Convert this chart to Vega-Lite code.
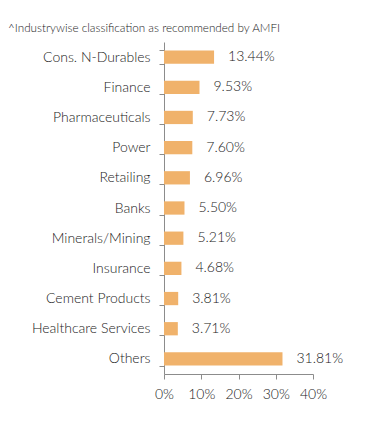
{
  "$schema": "https://vega.github.io/schema/vega-lite/v6.json",
  "width": 149,
  "height": 332,
  "autosize": {"type": "none"},
  "padding": {"left": 164, "top": 42, "right": 78, "bottom": 53},
  "background": "white",
  "title": {
    "text": "^Industrywise classification as recommended by AMFI",
    "anchor": "start",
    "frame": "group",
    "dx": -156,
    "dy": 4,
    "offset": 4,
    "fontSize": 11.7,
    "font": "Lato",
    "fontWeight": 300,
    "color": "#222222"
  },
  "data": {
    "values": [
      {"industry": "Cons. N-Durables", "pct": 13.44, "label": "13.44%"},
      {"industry": "Finance", "pct": 9.53, "label": "9.53%"},
      {"industry": "Pharmaceuticals", "pct": 7.73, "label": "7.73%"},
      {"industry": "Power", "pct": 7.60, "label": "7.60%"},
      {"industry": "Retailing", "pct": 6.96, "label": "6.96%"},
      {"industry": "Banks", "pct": 5.50, "label": "5.50%"},
      {"industry": "Minerals/Mining", "pct": 5.21, "label": "5.21%"},
      {"industry": "Insurance", "pct": 4.68, "label": "4.68%"},
      {"industry": "Cement Products", "pct": 3.81, "label": "3.81%"},
      {"industry": "Healthcare Services", "pct": 3.71, "label": "3.71%"},
      {"industry": "Others", "pct": 31.81, "label": "31.81%"}
    ]
  },
  "encoding": {
    "y": {
      "field": "industry",
      "type": "nominal",
      "sort": null,
      "scale": {"paddingInner": 0.56, "paddingOuter": 0.28},
      "axis": {
        "title": null,
        "tickBand": "extent",
        "domainColor": "#8c8c8c",
        "tickColor": "#8c8c8c",
        "tickSize": 5,
        "labelPadding": 9,
        "labelFont": "Lato",
        "labelFontWeight": 300,
        "labelFontSize": 14,
        "labelColor": "#222222"
      }
    },
    "x": {
      "field": "pct",
      "type": "quantitative",
      "scale": {"domain": [0, 40]},
      "axis": {
        "title": null,
        "values": [0, 10, 20, 30, 40],
        "labelExpr": "datum.value + '%'",
        "labelOverlap": false,
        "labelFlush": false,
        "grid": false,
        "domainColor": "#8c8c8c",
        "tickColor": "#8c8c8c",
        "tickSize": 5,
        "labelPadding": 8,
        "labelFont": "Lato",
        "labelFontWeight": 300,
        "labelFontSize": 14,
        "labelColor": "#222222"
      }
    }
  },
  "layer": [
    {"mark": {"type": "bar", "color": "#F0B26B"}},
    {
      "mark": {"type": "text", "align": "left", "dx": 14, "font": "Lato", "fontWeight": 300, "fontSize": 14, "color": "#222222"},
      "encoding": {"text": {"field": "label", "type": "nominal"}}
    }
  ],
  "config": {"view": {"stroke": null}}
}
